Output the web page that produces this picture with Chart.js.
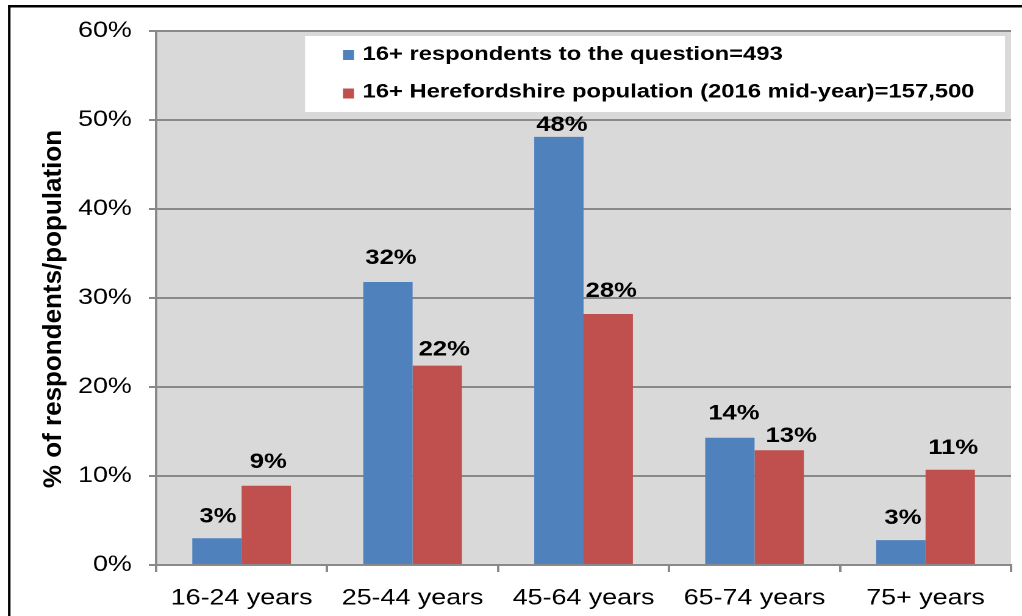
<!DOCTYPE html>
<html><head><meta charset="utf-8">
<script src="https://cdn.jsdelivr.net/npm/chart.js@4.4.1/dist/chart.umd.min.js"></script>
<style>
html,body{margin:0;padding:0;background:#fff;overflow:hidden;width:1022px;height:616px;}
#wrap{position:absolute;left:0;top:0;width:838px;height:616px;transform-origin:0 0;transform:scaleX(1.21957);}
</style></head><body>
<div id="wrap"><canvas id="c" width="838" height="616"></canvas></div>
<script>
// ---- data ----
const categories = ['16-24 years', '25-44 years', '45-64 years', '65-74 years', '75+ years'];
const respondents = [3.0, 31.8, 48.1, 14.3, 2.8];
const population = [8.9, 22.4, 28.2, 12.9, 10.7];
const seriesNames = ['16+ respondents to the question=493', '16+ Herefordshire population (2016 mid-year)=157,500'];
const yAxisTitle = '% of respondents/population';

// ---- styling ----
const S = 1022 / 838;           // horizontal stretch of the whole picture
const FONT = "'Liberation Sans', Arial, sans-serif";
const GRID = '#898989';
// data label placement (gap above bar top, horizontal nudge), per series
const labelGap = [[16, 18, 6, 18, 16], [18, 10, 17, 8, 16]];
const labelShift = [[1, 3, 3, 4, 2], [2, 7, 3, 12, 3]];

const decor = {
  id: 'decor',
  beforeDraw(chart) {
    const {ctx, chartArea: a} = chart;
    ctx.save();
    ctx.fillStyle = '#fff';
    ctx.fillRect(0, 0, chart.width, chart.height);
    ctx.fillStyle = '#d9d9d9';
    ctx.fillRect(a.left, a.top, a.right - a.left, a.bottom - a.top);
    ctx.restore();
  },
  afterDatasetsDraw(chart) {
    const ctx = chart.ctx;
    ctx.save();
    ctx.font = 'bold 21px ' + FONT;
    ctx.fillStyle = '#000';
    ctx.textAlign = 'center';
    ctx.textBaseline = 'alphabetic';
    chart.data.datasets.forEach((ds, i) => {
      chart.getDatasetMeta(i).data.forEach((el, j) => {
        ctx.fillText(Math.round(ds.data[j]) + '%', el.x + labelShift[i][j] / S, el.y - labelGap[i][j]);
      });
    });
    ctx.restore();
  },
  afterDraw(chart) {
    const ctx = chart.ctx;
    ctx.save();
    // legend box
    const bx0 = 305 / S, bx1 = 1005 / S;
    ctx.fillStyle = '#fff';
    ctx.fillRect(bx0, 36, bx1 - bx0, 76);
    const rows = [54.5, 92];
    ctx.font = 'bold 19.5px ' + FONT;
    ctx.textAlign = 'left';
    ctx.textBaseline = 'middle';
    chart.data.datasets.forEach((ds, i) => {
      ctx.fillStyle = ds.backgroundColor;
      ctx.fillRect(343 / S, rows[i] - 5 + (i ? 1.5 : 0.5), 11 / S, 10);
      ctx.fillStyle = '#000';
      ctx.fillText(ds.label, 362.5 / S, rows[i]);
    });
    // outer frame
    ctx.fillStyle = '#000';
    ctx.fillRect(8 / S, 5, chart.width, 2.5);
    ctx.fillRect(8 / S, 5, 2.5 / S, chart.height);
    // y axis title (kept unstretched)
    ctx.translate(54 / S, 309);
    ctx.scale(1 / S, 1);
    ctx.rotate(-Math.PI / 2);
    ctx.font = 'bold 26px ' + FONT;
    ctx.textAlign = 'center';
    ctx.textBaseline = 'middle';
    ctx.fillText(yAxisTitle, 0, 0);
    ctx.restore();
  }
};

new Chart(document.getElementById('c'), {
  type: 'bar',
  data: {
    labels: categories,
    datasets: [
      {label: seriesNames[0], data: respondents, backgroundColor: '#4F81BD', borderWidth: 0},
      {label: seriesNames[1], data: population, backgroundColor: '#C0504D', borderWidth: 0}
    ]
  },
  options: {
    responsive: false,
    animation: false,
    devicePixelRatio: 2,
    events: [],
    datasets: {bar: {categoryPercentage: 0.577, barPercentage: 1.0}},
    layout: {padding: {left: 0, top: 31, right: 9, bottom: 0}},
    plugins: {legend: {display: false}, tooltip: {enabled: false}, title: {display: false}},
    scales: {
      x: {
        offset: true,
        grid: {display: true, drawOnChartArea: false, drawTicks: true, tickLength: 7, color: GRID, lineWidth: 2},
        border: {display: true, color: GRID, width: 2},
        ticks: {font: {family: FONT, size: 22}, color: '#000', padding: 13, maxRotation: 0, autoSkip: false},
        afterFit(scale) { scale.height = 51; }
      },
      y: {
        min: 0, max: 60,
        grid: {color: GRID, lineWidth: 2, drawTicks: true, tickLength: 6},
        border: {display: true, color: GRID, width: 2},
        ticks: {stepSize: 10, font: {family: FONT, size: 22}, color: '#000', padding: 14,
                callback: v => v + '%'},
        afterFit(scale) { scale.width = 128; }
      }
    }
  },
  plugins: [decor]
});
</script>
</body></html>
